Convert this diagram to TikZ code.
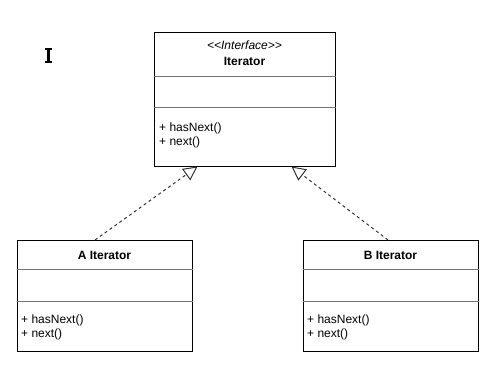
\documentclass[tikz,border=0pt]{standalone}
\usepackage{fontspec}
\setmainfont{Liberation Sans}
\usetikzlibrary{arrows.meta}
\tikzset{
  umlbox/.style={draw=black, line width=1pt, fill=white, inner sep=0pt},
  divider/.style={draw=black!55, line width=1pt},
  txt/.style={inner sep=0pt, font=\fontsize{12}{14}\selectfont},
  methods/.style={txt, anchor=west, align=left},
  realize/.style={draw=black!80, line width=1pt, dash pattern=on 3pt off 3pt,
    -{Triangle[open, length=14pt, width=14pt, fill=white]}},
  cursorline/.style={draw=black, line width=2.6pt}
}
\begin{document}
\begin{tikzpicture}[x=1pt, y=-1pt]
\useasboundingbox (0,0) rectangle (503,369);

% Interface box
\node[umlbox, minimum width=181pt, minimum height=133pt] (iter) at (244.5,99.5) {};
\draw[divider] ([yshift=-44pt]iter.north west) -- ([yshift=-44pt]iter.north east);
\draw[divider] ([yshift=-75pt]iter.north west) -- ([yshift=-75pt]iter.north east);
\node[txt, font=\fontsize{12}{14}\selectfont\itshape] (iterst) at (244.5,45) {<{}<Interface>{}>};
\node[txt, font=\fontsize{12}{14}\selectfont\bfseries] (itername) at (244.5,61) {Iterator};
\node[methods] (itermeth) at (159,135) {+ hasNext()\\+ next()};

% A Iterator
\node[umlbox, minimum width=175pt, minimum height=111pt] (a) at (104.5,296) {};
\draw[divider] ([yshift=-29pt]a.north west) -- ([yshift=-29pt]a.north east);
\draw[divider] ([yshift=-61pt]a.north west) -- ([yshift=-61pt]a.north east);
\node[txt, font=\fontsize{12}{14}\selectfont\bfseries] (aname) at (104.5,255) {A Iterator};
\node[methods] (ameth) at (21,327) {+ hasNext()\\+ next()};

% B Iterator
\node[umlbox, minimum width=175pt, minimum height=111pt] (b) at (390.5,296) {};
\draw[divider] ([yshift=-29pt]b.north west) -- ([yshift=-29pt]b.north east);
\draw[divider] ([yshift=-61pt]b.north west) -- ([yshift=-61pt]b.north east);
\node[txt, font=\fontsize{12}{14}\selectfont\bfseries] (bname) at (390.5,255) {B Iterator};
\node[methods] (bmeth) at (307,327) {+ hasNext()\\+ next()};

% realizations
\coordinate (ta) at ([xshift=-47pt]iter.south);
\coordinate (tb) at ([xshift=47pt]iter.south);
\draw[realize] ([xshift=-9.5pt]a.north) -- (ta);
\draw[realize] ([xshift=-2.5pt]b.north) -- (tb);

% text cursor (I-beam)
\coordinate (ctop) at (48.5,49);
\coordinate (cbot) at (48.5,62);
\draw[cursorline, line width=2.4pt] (ctop) -- (cbot);
\draw[cursorline, line width=1.6pt] ([xshift=-3.5pt]ctop) -- ([xshift=3.5pt]ctop);
\draw[cursorline, line width=1.6pt] ([xshift=-3.5pt]cbot) -- ([xshift=3.5pt]cbot);
\end{tikzpicture}
\end{document}
